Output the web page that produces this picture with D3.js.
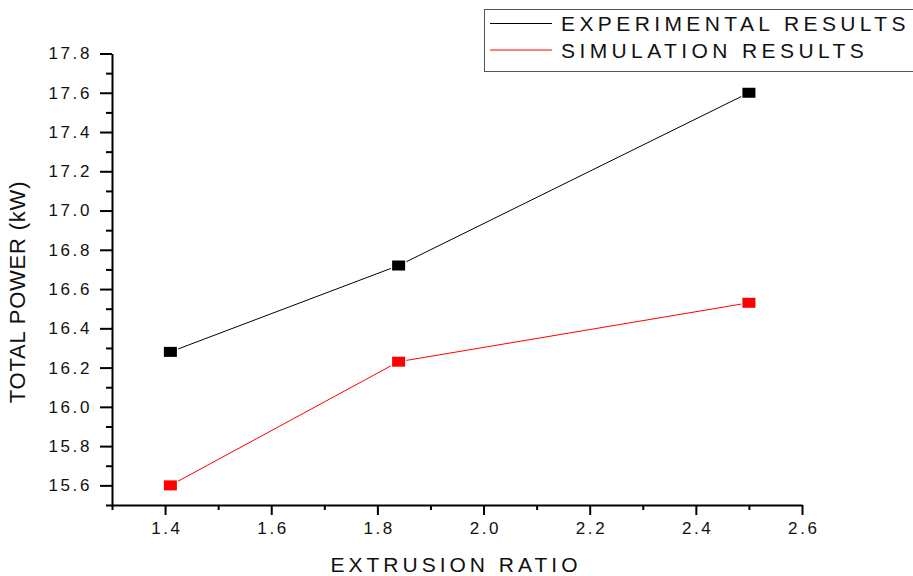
<!DOCTYPE html>
<html>
<head>
<meta charset="utf-8">
<script src="https://cdn.jsdelivr.net/npm/d3@7"></script>
<style>
  body { margin: 0; background: #fff; }
  svg { font-family: Arial, "Liberation Sans", sans-serif; }
</style>
</head>
<body>
<svg width="913" height="576"></svg>
<script>
// values
const ratio = [1.41, 1.84, 2.5];
const experimental = [16.28, 16.72, 17.6];
const simulation = [15.6, 16.23, 16.53];
const xTicks = [1.4, 1.6, 1.8, 2.0, 2.2, 2.4, 2.6];
const xMinor = [1.3, 1.5, 1.7, 1.9, 2.1, 2.3, 2.5];
const yTicks = [15.6, 15.8, 16.0, 16.2, 16.4, 16.6, 16.8, 17.0, 17.2, 17.4, 17.6, 17.8];
const yMinor = [15.5, 15.7, 15.9, 16.1, 16.3, 16.5, 16.7, 16.9, 17.1, 17.3, 17.5, 17.7];
const seriesNames = ["EXPERIMENTAL RESULTS", "SIMULATION RESULTS"];
const seriesColors = ["#000000", "#ff0000"];

const svg = d3.select("svg");
const x = d3.scaleLinear().domain([1.3, 2.6]).range([112, 802]);
const y = d3.scaleLinear().domain([15.5, 17.8]).range([505, 53.5]);

// minor ticks first, so the major axis sits on top
svg.append("g")
    .attr("transform", "translate(0,505)")
    .call(d3.axisBottom(x).tickValues(xMinor).tickSize(5).tickFormat(""))
    .call(g => g.select(".domain").remove());
svg.append("g")
    .attr("transform", "translate(112,0)")
    .call(d3.axisLeft(y).tickValues(yMinor).tickSize(6).tickFormat(""))
    .call(g => g.select(".domain").remove());

const xAxis = svg.append("g")
    .attr("transform", "translate(0,505)")
    .call(d3.axisBottom(x).tickValues(xTicks).tickSize(10).tickSizeOuter(0).tickPadding(7)
        .tickFormat(d3.format(".1f")));
const yAxis = svg.append("g")
    .attr("transform", "translate(112,0)")
    .call(d3.axisLeft(y).tickValues(yTicks).tickSize(12).tickSizeOuter(0).tickPadding(8)
        .tickFormat(d3.format(".1f")));

svg.selectAll(".tick line, .domain").attr("stroke", "#000").attr("stroke-width", 2);
[xAxis, yAxis].forEach(a => a.selectAll("text")
    .attr("font-size", 17)
    .attr("fill", "#111")
    .style("letter-spacing", "2.6px"));
xAxis.selectAll("text").attr("dx", "1.3px");

const line = d3.line().x(d => x(d[0])).y(d => y(d[1]));
[experimental, simulation].forEach((vals, i) => {
    const pts = ratio.map((r, j) => [r, vals[j]]);
    svg.append("path")
        .attr("d", line(pts))
        .attr("fill", "none")
        .attr("stroke", seriesColors[i])
        .attr("stroke-width", 1);
    svg.selectAll(null)
        .data(pts)
        .enter().append("rect")
        .attr("x", d => x(d[0]) - 6.5)
        .attr("y", d => y(d[1]) - 5)
        .attr("width", 13)
        .attr("height", 10)
        .attr("fill", seriesColors[i])
        .attr("stroke", "#fff")
        .attr("stroke-width", 2.5)
        .attr("paint-order", "stroke");
});

// axis titles
svg.append("text")
    .attr("x", 456)
    .attr("y", 572)
    .attr("text-anchor", "middle")
    .attr("font-size", 21)
    .style("letter-spacing", "4px")
    .attr("fill", "#111")
    .text("EXTRUSION RATIO");
svg.append("text")
    .attr("transform", "translate(24.5,292) rotate(-90)")
    .attr("text-anchor", "middle")
    .attr("font-size", 22)
    .style("letter-spacing", "0.8px")
    .attr("fill", "#111")
    .text("TOTAL POWER (kW)");

// legend
const legend = svg.append("g");
legend.append("rect")
    .attr("x", 484.5).attr("y", 9.5)
    .attr("width", 440).attr("height", 62)
    .attr("fill", "#fff")
    .attr("stroke", "#555")
    .attr("stroke-width", 1);
seriesNames.forEach((name, i) => {
    const yy = 23.5 + i * 26.5;
    legend.append("line")
        .attr("x1", 490).attr("x2", 552)
        .attr("y1", yy).attr("y2", yy)
        .attr("stroke", seriesColors[i])
        .attr("stroke-width", 1);
    legend.append("text")
        .attr("x", 561)
        .attr("y", yy + 7.5)
        .attr("font-size", 21)
        .style("letter-spacing", "4.4px")
        .attr("fill", "#111")
        .text(name);
});
</script>
</body>
</html>
